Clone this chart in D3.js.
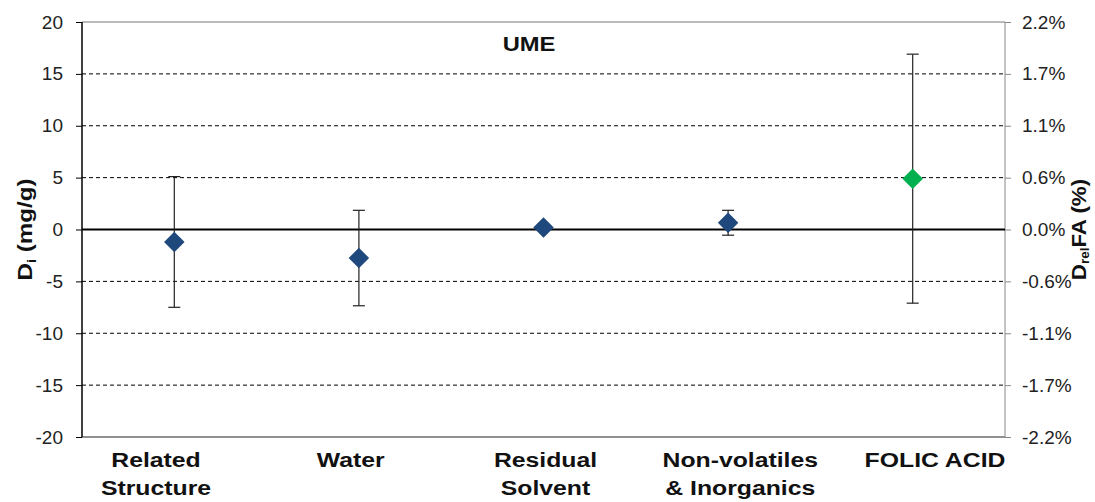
<!DOCTYPE html>
<html><head><meta charset="utf-8">
<script src="https://cdn.jsdelivr.net/npm/d3@7"></script>
<style>body{margin:0;background:#fff}</style>
</head><body>
<svg id="c" width="1095" height="502"></svg>
<script>
const categories = [["Related","Structure"],["Water"],["Residual","Solvent"],["Non-volatiles","& Inorganics"],["FOLIC ACID"]];
const values = [-1.2, -2.75, 0.2, 0.65, 4.9];
const errors = [6.3, 4.6, 0.3, 1.2, 12.0];
const colors = ["#1F487C","#1F487C","#1F487C","#1F487C","#00B050"];
const leftTicks = [-20,-15,-10,-5,0,5,10,15,20];
const rightTickLabels = ["-2.2%","-1.7%","-1.1%","-0.6%","0.0%","0.6%","1.1%","1.7%","2.2%"];

const FONT = "Liberation Sans, Arial, sans-serif";
const svg = d3.select("#c");
const L=82, R=1005, T=22, B=437;
const x = d3.scalePoint().domain(d3.range(categories.length)).range([L,R]).padding(0.5);
const y = d3.scaleLinear().domain([-20,20]).range([B,T]);
const mid = (L+R)/2;
const labelX = i => mid + (x(i)-mid)*1.055 + 2;

// grid
svg.append("g").selectAll("line").data(leftTicks.filter(t=>t!==0 && Math.abs(t)!==20)).join("line")
  .attr("x1",L).attr("x2",R).attr("y1",d=>y(d)).attr("y2",d=>y(d))
  .attr("stroke","#000").attr("stroke-width",1).attr("stroke-dasharray","4,3");
svg.append("line").attr("x1",L).attr("x2",R).attr("y1",y(20)).attr("y2",y(20)).attr("stroke","#777").attr("stroke-width",1);
svg.append("line").attr("x1",L).attr("x2",R).attr("y1",y(-20)).attr("y2",y(-20)).attr("stroke","#222").attr("stroke-width",1);

// left axis
const la = svg.append("g").attr("transform",`translate(${L},0)`)
  .call(d3.axisLeft(y).tickValues(leftTicks).tickSize(6).tickPadding(13).tickFormat(d=>String(d)));
la.select(".domain").attr("stroke","#000").attr("stroke-width",1.5).attr("d",`M0,${T}V${B}`);
la.selectAll(".tick line").attr("stroke","#000");
la.selectAll("text").attr("font-family",FONT).attr("font-size",19).attr("fill","#222");

// right axis
const yr = d3.scaleLinear().domain([0,leftTicks.length-1]).range([B,T]);
const ra = svg.append("g").attr("transform",`translate(${R},0)`)
  .call(d3.axisRight(yr).tickValues(d3.range(rightTickLabels.length)).tickSize(6).tickPadding(11).tickFormat(i=>rightTickLabels[i]));
ra.select(".domain").attr("stroke","#888").attr("d",`M0,${T}V${B}`);
ra.selectAll(".tick line").attr("stroke","#888");
ra.selectAll("text").attr("font-family",FONT).attr("font-size",19).attr("fill","#222");

// zero line
svg.append("line").attr("x1",L).attr("x2",R).attr("y1",y(0)).attr("y2",y(0)).attr("stroke","#000").attr("stroke-width",2);

// error bars
const eb = svg.append("g").selectAll("g").data(values).join("g");
eb.append("line").attr("x1",(d,i)=>x(i)).attr("x2",(d,i)=>x(i))
  .attr("y1",(d,i)=>y(d+errors[i])).attr("y2",(d,i)=>y(d-errors[i])).attr("stroke","#222").attr("stroke-width",1.2);
[1,-1].forEach(s=>{
  eb.append("line").attr("x1",(d,i)=>x(i)-6).attr("x2",(d,i)=>x(i)+6)
    .attr("y1",(d,i)=>y(d+s*errors[i])).attr("y2",(d,i)=>y(d+s*errors[i])).attr("stroke","#222").attr("stroke-width",1.2);
});
// markers
svg.append("g").selectAll("path").data(values).join("path")
  .attr("d",d3.symbol().type(d3.symbolSquare).size(210))
  .attr("transform",(d,i)=>`translate(${x(i)},${y(d)}) rotate(45)`)
  .attr("fill",(d,i)=>colors[i]);

// title
svg.append("text").attr("transform","translate(529,51) scale(1.13,1)").attr("text-anchor","middle")
  .attr("font-family",FONT).attr("font-weight","bold").attr("font-size",21).attr("fill","#111").text("UME");

// category labels
const cl = svg.append("g").selectAll("text").data(categories).join("text")
  .attr("transform",(d,i)=>`translate(${labelX(i)},0) scale(1.18,1)`)
  .attr("text-anchor","middle").attr("font-family",FONT)
  .attr("font-weight","bold").attr("font-size",21).attr("fill","#111");
cl.selectAll("tspan").data(d=>d).join("tspan")
  .attr("x",0).attr("y",(d,j)=>467+j*28).text(d=>d);

// y titles
const yt = svg.append("text").attr("transform",`translate(32,${y(0)}) rotate(-90) scale(1.15,1)`).attr("text-anchor","middle")
  .attr("font-family",FONT).attr("font-weight","bold").attr("font-size",21).attr("fill","#111");
yt.append("tspan").text("D");
yt.append("tspan").attr("font-size",13).attr("dy",4).text("i");
yt.append("tspan").attr("dy",-4).text(" (mg/g)");

const yt2 = svg.append("text").attr("transform",`translate(1086,${y(0)}) rotate(-90) scale(1.12,1)`).attr("text-anchor","middle")
  .attr("font-family",FONT).attr("font-weight","bold").attr("font-size",20).attr("fill","#111");
yt2.append("tspan").text("D");
yt2.append("tspan").attr("font-size",12).attr("dy",3).text("rel");
yt2.append("tspan").attr("dy",-3).text("FA (%)");
</script>
</body></html>
